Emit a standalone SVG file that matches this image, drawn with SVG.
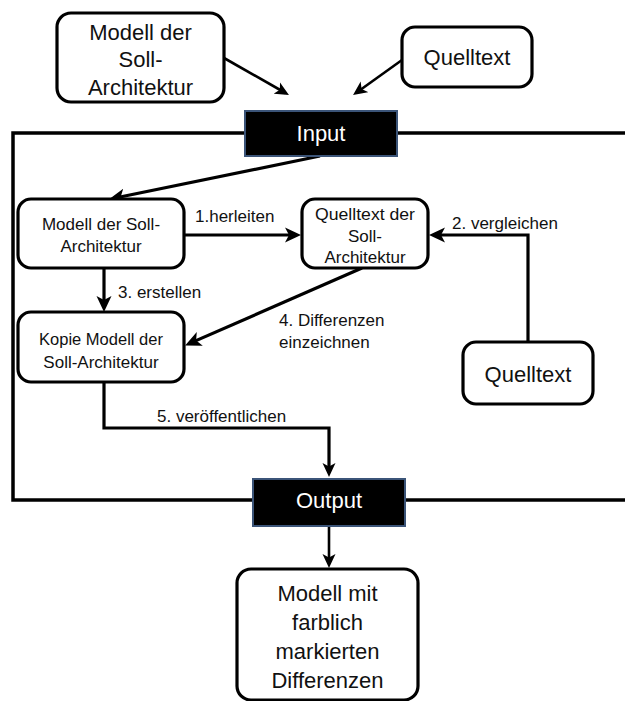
<svg xmlns="http://www.w3.org/2000/svg" width="625" height="701" viewBox="0 0 625 701">
<style>
.box{fill:#fff;stroke:#000;stroke-width:3.2}
.io{fill:#000;stroke:#3b5478;stroke-width:2}
.t{font-family:"Liberation Sans",Arial,sans-serif;fill:#111;text-anchor:middle}
.big{font-size:22px}
.sm{font-size:17px}
.lbl{font-family:"Liberation Sans",Arial,sans-serif;fill:#111;font-size:17px}
.w{font-family:"Liberation Sans",Arial,sans-serif;fill:#fff;font-size:22px;text-anchor:middle}
.c{fill:none;stroke:#000;stroke-width:3.2;stroke-linejoin:miter}
.c2{fill:none;stroke:#000;stroke-width:2.6}
.frame{fill:none;stroke:#000;stroke-width:3.5}
</style>
<defs>
<marker id="ah" markerUnits="userSpaceOnUse" viewBox="0 0 16 16" markerWidth="16" markerHeight="16" refX="11" refY="8" orient="auto">
<path d="M0,0.5 L16,8 L0,15.5 L4,8 z" fill="#000"/>
</marker>
<marker id="ahs" markerUnits="userSpaceOnUse" viewBox="0 0 14 14" markerWidth="14" markerHeight="14" refX="10" refY="7" orient="auto">
<path d="M0,0.5 L14,7 L0,13.5 L3.5,7 z" fill="#000"/>
</marker>
</defs>

<g id="frame">
<path class="frame" d="M245,133 H13 V500 H253"/>
<path class="frame" d="M397,133 H625"/>
<path class="frame" d="M405,500 H625"/>
</g>

<g id="connectors">
<path class="c2" d="M224,58 L285.5,93" marker-end="url(#ahs)"/>
<path class="c2" d="M402,60 L356.3,92.7" marker-end="url(#ahs)"/>
<path class="c" d="M320,156 L113.9,198.2" marker-end="url(#ah)"/>
<path class="c" d="M184,235 L296,235" marker-end="url(#ah)"/>
<path class="c" d="M104,268 L104,307" marker-end="url(#ah)"/>
<path class="c" d="M362,268 L189.7,343.4" marker-end="url(#ah)"/>
<path class="c" d="M528,342 V235 H434" marker-end="url(#ah)"/>
<path class="c" d="M104,382 V428 H329 V473" marker-end="url(#ahs)"/>
<path class="c2" d="M329,526 V564" marker-end="url(#ahs)"/>
</g>

<g id="lbl1"><text class="lbl" x="195" y="222">1.herleiten</text></g>
<g id="lbl2"><text class="lbl" x="452" y="229">2. vergleichen</text></g>
<g id="lbl3"><text class="lbl" x="118" y="298">3. erstellen</text></g>
<g id="lbl4"><text class="lbl" x="279" y="326">4. Differenzen</text><text class="lbl" x="279" y="348">einzeichnen</text></g>
<g id="lbl5"><text class="lbl" x="157" y="422">5. veröffentlichen</text></g>

<g id="top-modell">
<rect class="box" x="57" y="13" width="167" height="89" rx="14"/>
<text class="t big" x="140.5" y="40">Modell der</text>
<text class="t big" x="140.5" y="67">Soll-</text>
<text class="t big" x="140.5" y="95">Architektur</text>
</g>

<g id="top-quelltext">
<rect class="box" x="402" y="27" width="130" height="60" rx="13"/>
<text class="t big" x="467" y="65">Quelltext</text>
</g>

<g id="input">
<rect class="io" x="245" y="111" width="152" height="45"/>
<text class="w" x="321" y="141">Input</text>
</g>

<g id="modell">
<rect class="box" x="18" y="199" width="166" height="69" rx="13"/>
<text class="t sm" x="101" y="230">Modell der Soll-</text>
<text class="t sm" x="101" y="252">Architektur</text>
</g>

<g id="quelltext-soll">
<rect class="box" x="302" y="199" width="126" height="69" rx="13"/>
<text class="t sm" x="365" y="220" textLength="100" lengthAdjust="spacingAndGlyphs">Quelltext der</text>
<text class="t sm" x="365" y="242">Soll-</text>
<text class="t sm" x="365" y="263">Architektur</text>
</g>

<g id="kopie">
<rect class="box" x="18" y="312" width="166" height="70" rx="13"/>
<text class="t sm" x="101" y="345" textLength="124" lengthAdjust="spacingAndGlyphs">Kopie Modell der</text>
<text class="t sm" x="101" y="368">Soll-Architektur</text>
</g>

<g id="quelltext">
<rect class="box" x="463" y="342" width="130" height="62" rx="13"/>
<text class="t big" x="528" y="382">Quelltext</text>
</g>

<g id="output">
<rect class="io" x="253" y="479" width="152" height="47"/>
<text class="w" x="329" y="508">Output</text>
</g>

<g id="result">
<rect class="box" x="237" y="569" width="181" height="131" rx="14"/>
<text class="t big" x="327.5" y="601">Modell mit</text>
<text class="t big" x="327.5" y="630">farblich</text>
<text class="t big" x="327.5" y="659">markierten</text>
<text class="t big" x="327.5" y="688">Differenzen</text>
</g>
</svg>
